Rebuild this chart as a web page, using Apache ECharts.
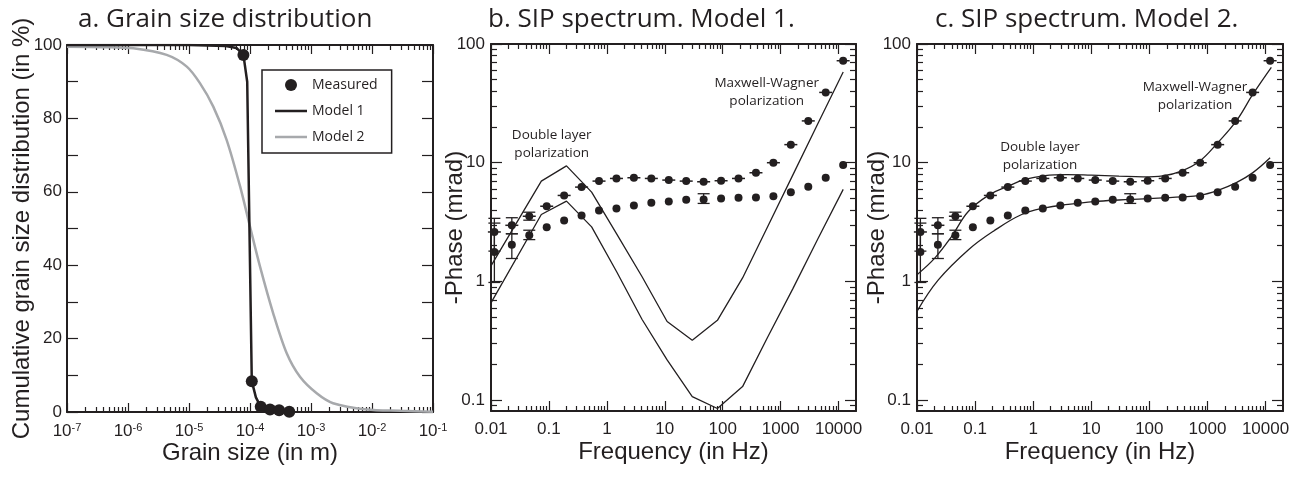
<!DOCTYPE html>
<html><head><meta charset="utf-8">
<script src="https://cdn.jsdelivr.net/npm/echarts@6/dist/echarts.min.js"></script>
<style>html,body{margin:0;padding:0;background:#fff}#c{width:1302px;height:478px}</style>
</head><body><div id="c"></div>
<script>
// ---------- Panel a: grain size distribution ----------
const grainMeasured = [[7.8e-5,97.3],[1.07e-4,8.4],[1.5e-4,1.4],[2.13e-4,0.7],[3.0e-4,0.5],[4.4e-4,0.1]];
const grainModel1 = [[1e-7,100],[1e-5,100],[4e-5,99.7],[6e-5,99.2],[7.8e-5,97.3],[9.0e-5,90],[1.07e-4,8.4],[1.25e-4,4],[1.5e-4,1.4],[2.13e-4,0.7],[3.0e-4,0.5],[4.4e-4,0.1]];
const grainModel2 = [[1e-7,99.5],[4e-7,99.4],[1.22e-6,99.1],[4.3e-6,97.3],[9.2e-6,94.1],[1.51e-5,89.6],[2.5e-5,83.2],[4.15e-5,74.1],[6.9e-5,61.4],[1e-4,50.5],[1.46e-4,39.6],[2.4e-4,26.9],[4.0e-4,16],[6.6e-4,9.6],[1.24e-3,5.1],[2.3e-3,2.4],[8.2e-3,0.7],[0.029,0.35],[0.1,0.1]];

// ---------- Panels b, c: SIP spectra ----------
const freqs = [0.01144,0.02289,0.04578,0.09155,0.1831,0.3662,0.7324,1.465,2.930,5.859,11.72,23.44,46.88,93.75,187.5,375,750,1500,3000,6000,12000];
const phaseUpper = [2.61,2.97,3.54,4.30,5.30,6.23,7.00,7.37,7.47,7.37,7.14,7.00,6.91,7.05,7.37,8.23,10.0,14.2,22.5,39.1,72.3];
const phaseLower = [1.77,2.04,2.45,2.86,3.26,3.59,3.96,4.11,4.36,4.59,4.71,4.87,4.90,5.00,5.06,5.09,5.23,5.65,6.27,7.47,9.55];
const errUpper = [[0.01144,1.8,3.4],[0.02289,2.52,3.44],[0.04578,3.28,3.83]];
const errLower = [[0.01144,0.98,3.1],[0.02289,1.56,2.52],[0.04578,2.25,2.70],[46.88,4.54,5.48]];

// Model 1 (panel b)
const modelBFreq = [0.01,0.0739,0.2009,0.546,1.484,4.034,10.97,29.81,81.03,220.3,598.7,1628,4424,12026];
const modelBUpper = [1.35,7.0,9.4,5.65,2.5,1.1,0.46,0.32,0.47,1.07,2.9,7.9,21.5,58];
const modelBLower = [0.66,3.66,4.75,2.88,1.2,0.48,0.218,0.107,0.085,0.13,0.34,0.87,2.3,5.96];

// Model 2 (panel c)
const modelCUpperFreq = [0.01,0.0204,0.0396,0.077,0.18,0.374,0.72,1.6,3.7,10,30,78,171,355,735,1517,3143,6067,12600];
const modelCUpper = [1.14,1.58,2.4,3.9,5.4,6.35,7.24,7.8,7.95,7.85,7.7,7.6,7.75,8.51,10.3,14.8,22.5,37.8,63.7];
const modelCLowerFreq = [0.01,0.0233,0.077,0.207,0.634,1.6,4,11,30,80,171,355,735,1517,3143,6067,12000];
const modelCLower = [0.56,1.03,1.85,2.65,3.66,4.17,4.45,4.7,4.85,4.95,5.05,5.15,5.3,5.85,6.79,8.25,11.0];

// tick labels
const grainTicks = [1e-7,1e-6,1e-5,1e-4,1e-3,1e-2,1e-1];
const pctTicks = [0,20,40,60,80,100];
const pctMinor = [0,10,20,30,40,50,60,70,80,90,100];
const freqTicks = [0.01,0.1,1,10,100,1000,10000];
const phaseTicks = [0.1,1,10,100];

const INK = '#231f20';
const GRAY = '#a7a9ac';
const LBL = 'Liberation Sans, Arial, sans-serif';
const MY = 'Open Sans, sans-serif';

function minorLog(fromExp, toExp) {
  const out = [];
  for (let k = fromExp; k < toExp; k++) for (let m = 2; m <= 9; m++) out.push(+(m * Math.pow(10, k)).toPrecision(3));
  return out;
}

function axisSet(gridIndex, base, posMain, posOpp, major, minor, label, name, nameGap, majLen, minLen) {
  const ls = {color: INK, width: 1.2};
  const mk = (pos, isMain, isMinor) => Object.assign({}, base, {
    gridIndex: gridIndex, position: pos,
    axisLine: {show: !isMinor, onZero: false, lineStyle: {color: INK, width: 2}},
    axisTick: isMinor ? (minor ? {show: true, inside: true, length: minLen, customValues: minor, lineStyle: ls} : {show: false})
                      : {show: true, inside: true, length: majLen, customValues: major, lineStyle: ls},
    axisLabel: (isMain && !isMinor) ? label : {show: false},
    splitLine: {show: false},
    name: (isMain && !isMinor) ? name : '',
    nameLocation: 'middle', nameGap: nameGap, nameMoveOverlap: false,
    nameTextStyle: {fontFamily: LBL, fontSize: 24, color: INK},
    silent: true
  });
  return [mk(posMain, true, false), mk(posMain, true, true), mk(posOpp, false, false), mk(posOpp, false, true)];
}

const numLabel = (vals, margin) => ({show: true, customValues: vals, fontFamily: LBL, fontSize: 17, color: INK, margin: margin,
  formatter: v => String(v)});

const xAxes = [], yAxes = [];
// grid a
xAxes.push(...axisSet(0, {type: 'log', logBase: 10, min: 1e-7, max: 0.1}, 'bottom', 'top', grainTicks, minorLog(-7, -1),
  {show: true, customValues: grainTicks, fontFamily: LBL, fontSize: 17, color: INK, margin: 10,
   formatter: v => '10{s|' + Math.round(Math.log10(v)) + '}',
   rich: {s: {fontFamily: LBL, fontSize: 11, color: INK, verticalAlign: 'top', padding: [0, 0, 8, 0]}}},
  'Grain size (in m)', 29, 9, 5));
yAxes.push(...axisSet(0, {type: 'value', min: 0, max: 100}, 'left', 'right', pctMinor, null,
  numLabel(pctTicks, 5), 'Cumulative grain size distribution (in %)', 33, 11, 5));
// grid b
xAxes.push(...axisSet(1, {type: 'log', logBase: 10, min: 0.01, max: 20000}, 'bottom', 'top', freqTicks, minorLog(-2, 5).filter(v => v < 20000),
  numLabel(freqTicks, 10), 'Frequency (in Hz)', 29, 10, 5));
yAxes.push(...axisSet(1, {type: 'log', logBase: 10, min: 0.081, max: 100}, 'left', 'right', phaseTicks, minorLog(-2, 2).filter(v => v > 0.081),
  numLabel(phaseTicks, 6), '-Phase (mrad)', 24, 11, 6));
// grid c
xAxes.push(...axisSet(2, {type: 'log', logBase: 10, min: 0.01, max: 20000}, 'bottom', 'top', freqTicks, minorLog(-2, 5).filter(v => v < 20000),
  numLabel(freqTicks, 10), 'Frequency (in Hz)', 29, 10, 5));
yAxes.push(...axisSet(2, {type: 'log', logBase: 10, min: 0.081, max: 100}, 'left', 'right', phaseTicks, minorLog(-2, 2).filter(v => v > 0.081),
  numLabel(phaseTicks, 6), '-Phase (mrad)', 28, 11, 6));

function errRender(params, api) {
  const x = api.value(0), lo = api.value(1), hi = api.value(2);
  const a = api.coord([x, lo]), b = api.coord([x, hi]);
  const w = 6, st = {stroke: INK, lineWidth: 1.3};
  return {type: 'group', children: [
    {type: 'line', shape: {x1: a[0], y1: a[1], x2: b[0], y2: b[1]}, style: st},
    {type: 'line', shape: {x1: a[0] - w, y1: a[1], x2: a[0] + w, y2: a[1]}, style: st},
    {type: 'line', shape: {x1: b[0] - w, y1: b[1], x2: b[0] + w, y2: b[1]}, style: st}
  ]};
}
function dashRender(params, api) {
  const p = api.coord([api.value(0), api.value(1)]);
  return {type: 'line', shape: {x1: p[0] - 6.5, y1: p[1], x2: p[0] + 6.5, y2: p[1]}, style: {stroke: INK, lineWidth: 1.5}};
}

const zip = (xs, ys) => xs.map((x, i) => [x, ys[i]]);

function sipSeries(axisIdx, upperX, upperY, lowerX, lowerY, smooth) {
  const common = {xAxisIndex: axisIdx, yAxisIndex: axisIdx, silent: true};
  const dot = {color: INK, opacity: 1};
  return [
    Object.assign({type: 'line', data: zip(upperX, upperY), symbol: 'none', smooth: smooth, lineStyle: {color: INK, width: 1.3}, z: 2}, common),
    Object.assign({type: 'line', data: zip(lowerX, lowerY), symbol: 'none', smooth: smooth, lineStyle: {color: INK, width: 1.3}, z: 2}, common),
    Object.assign({type: 'custom', renderItem: errRender, data: errUpper, encode: {x: 0, y: [1, 2]}, z: 3}, common),
    Object.assign({type: 'custom', renderItem: errRender, data: errLower, encode: {x: 0, y: [1, 2]}, z: 3}, common),
    Object.assign({type: 'custom', renderItem: dashRender, data: zip(freqs, phaseUpper), encode: {x: 0, y: 1}, z: 3}, common),
    Object.assign({type: 'scatter', data: zip(freqs, phaseUpper), symbol: 'circle', symbolSize: 8, itemStyle: dot, z: 4}, common),
    Object.assign({type: 'scatter', data: zip(freqs, phaseLower), symbol: 'circle', symbolSize: 8, itemStyle: dot, z: 4}, common)
  ];
}

const annot = (x, y, txt) => ({type: 'text', x: x, y: y, silent: true,
  style: {text: txt, fontFamily: MY, fontSize: 13.5, lineHeight: 18, fill: INK, textAlign: 'center', textVerticalAlign: 'middle'}});

const titleStyle = {fontFamily: MY, fontSize: 26, fontWeight: 'normal', color: INK};
const LINE_ICON = 'path://M0,0L0.01,0M0,12L0.01,12M0,4.75L32,4.75L32,7.25L0,7.25Z';

const option = {
  animation: false,
  backgroundColor: '#fff',
  title: [
    {text: 'a. Grain size distribution', left: 78, top: 7, textStyle: titleStyle, padding: 0},
    {text: 'b. SIP spectrum. Model 1.', left: 488, top: 7, textStyle: titleStyle, padding: 0},
    {text: 'c. SIP spectrum. Model 2.', left: 935, top: 7, textStyle: titleStyle, padding: 0}
  ],
  grid: [
    {left: 67, top: 45, width: 366, height: 367, containLabel: false, outerBoundsMode: 'none'},
    {left: 491, top: 44, width: 365, height: 367, containLabel: false, outerBoundsMode: 'none'},
    {left: 917, top: 44, width: 366, height: 367, containLabel: false, outerBoundsMode: 'none'}
  ],
  xAxis: xAxes,
  yAxis: yAxes,
  legend: {
    left: 262, top: 70, orient: 'vertical', selectedMode: false,
    borderColor: INK, borderWidth: 1.5, padding: [8, 14, 9, 13], itemGap: 12,
    itemWidth: 32, itemHeight: 12,
    textStyle: {fontFamily: MY, fontSize: 14, color: INK},
    data: [
      {name: 'Measured', icon: 'circle', itemStyle: {color: INK, opacity: 1}},
      {name: 'Model 1', icon: LINE_ICON, itemStyle: {color: INK, opacity: 1, borderWidth: 0}},
      {name: 'Model 2', icon: LINE_ICON, itemStyle: {color: GRAY, opacity: 1, borderWidth: 0}}
    ]
  },
  graphic: [
    annot(551.7, 144, 'Double layer\npolarization'),
    annot(766.7, 91.7, 'Maxwell-Wagner\npolarization'),
    annot(1040, 156, 'Double layer\npolarization'),
    annot(1195, 96, 'Maxwell-Wagner\npolarization')
  ],
  series: [
    {name: 'Model 2', type: 'line', xAxisIndex: 0, yAxisIndex: 0, data: grainModel2, symbol: 'none', smooth: 0.3,
     lineStyle: {color: GRAY, width: 2.5}, itemStyle: {color: GRAY}, z: 2},
    {name: 'Model 1', type: 'line', xAxisIndex: 0, yAxisIndex: 0, data: grainModel1, symbol: 'none', smooth: false,
     lineStyle: {color: INK, width: 2.5}, itemStyle: {color: INK}, z: 3},
    {name: 'Measured', type: 'scatter', xAxisIndex: 0, yAxisIndex: 0, data: grainMeasured, symbol: 'circle', symbolSize: 12,
     itemStyle: {color: INK, opacity: 1}, z: 4},
    ...sipSeries(4, modelBFreq, modelBUpper, modelBFreq, modelBLower, false),
    ...sipSeries(8, modelCUpperFreq, modelCUpper, modelCLowerFreq, modelCLower, 0.4)
  ]
};

const chart = echarts.init(document.getElementById('c'), null, {renderer: 'canvas'});
chart.setOption(option);
</script>
</body></html>
